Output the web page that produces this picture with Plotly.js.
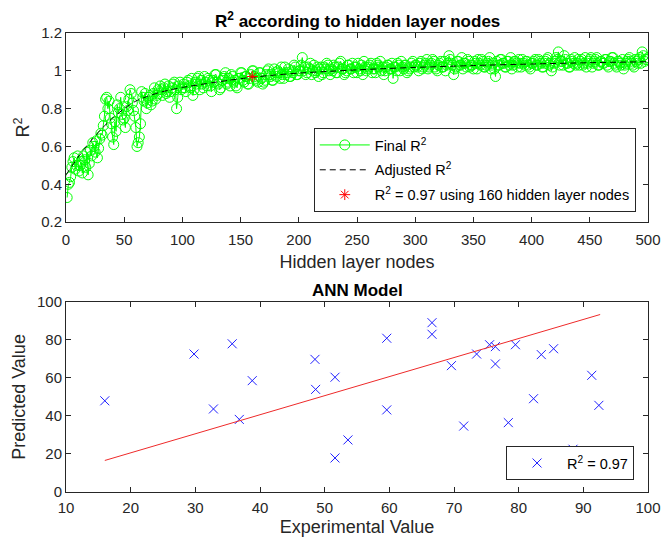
<!DOCTYPE html>
<html>
<head>
<meta charset="utf-8">
<script src="https://cdn.plot.ly/plotly-3.0.1.min.js"></script>
<style>html,body{margin:0;padding:0;background:#fff;}#chart{width:662px;height:537px;}</style>
</head>
<body>
<div id="chart"></div>
<script>
// ---------- Top chart: R^2 by hidden layer nodes ----------
// values at odd node counts 1,3,...,499
const finalR2Odd = [
  0.33,0.41,0.49,0.54,0.50,0.47,0.52,0.55,0.49,0.45,
  0.58,0.62,0.57,0.54,0.64,0.66,0.76,0.86,0.84,0.72,
  0.61,0.68,0.78,0.86,0.74,0.70,0.79,0.90,0.83,0.76,
  0.60,0.65,0.89,0.84,0.80,0.86,0.82,0.88,0.85,0.90,
  0.92,0.87,0.93,0.89,0.86,0.91,0.94,0.80,0.92,0.90,
  0.93,0.89,0.95,0.91,0.87,0.94,0.96,0.90,0.93,0.97,
  0.92,0.95,0.89,0.94,0.98,0.93,0.91,0.96,0.99,0.94,
  0.92,0.97,0.95,0.91,0.96,0.99,0.94,0.97,0.93,0.98,
  1.00,0.96,0.94,0.99,0.93,0.95,1.00,0.98,0.95,1.01,
  0.97,0.99,1.02,0.96,0.98,1.01,0.97,0.99,1.02,0.98,
  1.00,1.07,1.02,0.99,1.01,0.98,1.03,1.00,0.97,1.02,
  0.99,1.01,1.03,0.98,1.00,1.02,0.99,1.04,1.01,0.98,
  1.00,1.03,1.01,0.99,1.02,1.04,1.00,0.98,1.02,1.01,
  1.03,0.99,1.01,1.04,1.02,1.00,0.98,1.02,1.03,1.01,
  0.96,1.02,1.04,1.00,1.02,1.03,0.99,1.01,1.04,1.02,
  1.03,1.00,1.05,1.02,1.04,1.01,1.03,1.06,1.02,1.00,
  1.04,1.02,1.05,1.03,1.08,1.04,0.98,1.02,1.05,1.03,
  1.01,1.04,1.06,1.02,1.03,1.05,1.01,1.04,1.06,1.02,
  1.03,1.05,1.01,1.04,0.97,1.03,1.06,1.04,1.02,1.05,
  1.03,1.01,1.05,1.04,1.06,1.02,1.04,1.05,1.03,1.01,
  1.04,1.06,1.03,1.05,1.02,1.04,1.06,1.03,1.00,1.04,
  1.07,1.10,1.05,1.03,1.06,1.04,1.02,1.05,1.07,1.04,
  1.03,1.06,1.04,1.02,1.05,1.07,1.04,1.06,1.03,1.05,
  1.04,1.06,1.03,1.05,1.07,1.04,1.02,1.05,1.03,1.01,
  1.04,1.06,1.05,1.03,1.06,1.04,1.07,1.10,1.05,1.06
];
// values at even node counts 2,4,...,500
const finalR2Even = [
  0.40,0.44,0.52,0.48,0.55,0.50,0.46,0.53,0.57,0.51,
  0.55,0.60,0.63,0.59,0.67,0.71,0.85,0.80,0.75,0.65,
  0.73,0.82,0.80,0.77,0.75,0.81,0.85,0.88,0.79,0.70,
  0.62,0.72,0.86,0.88,0.83,0.87,0.84,0.91,0.87,0.88,
  0.90,0.91,0.88,0.92,0.89,0.93,0.90,0.86,0.94,0.91,
  0.91,0.94,0.92,0.96,0.90,0.93,0.97,0.95,0.91,0.94,
  0.96,0.92,0.95,0.98,0.94,0.90,0.95,0.97,0.93,0.96,
  0.98,0.94,0.92,0.96,0.99,0.95,0.97,0.93,0.96,1.00,
  0.97,0.95,0.99,0.96,0.94,0.98,1.01,0.97,0.95,0.99,
  1.00,0.96,0.98,1.02,0.99,0.97,1.00,1.03,0.98,1.00,
  1.03,1.00,0.98,1.02,1.04,1.00,0.99,1.02,1.01,0.98,
  1.02,1.04,1.00,1.01,1.03,0.99,1.02,1.05,1.01,0.99,
  1.03,1.01,1.04,1.02,0.99,1.01,1.03,1.05,1.00,1.02,
  1.04,1.01,0.99,1.03,1.05,1.02,1.00,1.03,1.01,1.04,
  1.02,1.00,1.03,1.05,1.01,1.03,1.00,1.02,1.05,1.03,
  1.02,1.04,1.01,1.03,1.06,1.02,1.04,1.05,1.01,1.03,
  1.05,1.02,1.00,1.04,1.06,1.03,1.01,1.05,1.03,1.07,
  1.04,1.02,1.05,1.03,1.01,1.04,1.06,1.03,1.05,1.02,
  1.04,1.07,1.03,1.01,1.05,1.03,1.06,1.04,1.02,1.05,
  1.07,1.03,1.05,1.02,1.04,1.06,1.03,1.05,1.02,1.04,
  1.05,1.03,1.06,1.04,1.02,1.05,1.07,1.04,1.02,1.05,
  1.06,1.03,1.05,1.08,1.04,1.02,1.06,1.04,1.03,1.06,
  1.05,1.03,1.07,1.04,1.06,1.02,1.05,1.07,1.03,1.05,
  1.04,1.06,1.02,1.05,1.07,1.03,1.05,1.04,1.06,1.03,
  1.05,1.07,1.04,1.02,1.05,1.06,1.04,1.08,1.06,1.07
];
const adjNodes = [0,10,20,30,40,50,60,70,80,90,100,120,140,160,180,200,225,250,275,300,350,400,450,500];
const adjR2    = [0.45,0.54,0.62,0.69,0.75,0.80,0.84,0.865,0.885,0.90,0.912,0.932,0.95,0.966,0.978,0.988,0.997,1.005,1.012,1.018,1.028,1.036,1.043,1.048];
const bestNode = [160];
const bestR2   = [0.97];

// ---------- Bottom chart: ANN model ----------
const experimental = [16,29.8,32.8,35.7,36.8,38.8,48.5,48.6,51.6,51.6,53.6,59.6,59.6,66.6,66.6,69.6,71.5,73.5,75.5,76.4,76.4,78.4,79.5,82.3,83.5,85.4,88.4,91.3,92.4];
const predicted    = [48,72.6,43.7,78,38.2,58.6,69.8,54,60.4,17.9,27.4,80.9,43.2,89.1,83,66.5,34.7,72.6,77.5,76.5,67.4,36.5,77.5,49.1,72.3,75.4,22.5,61.4,45.6];
const fitX = [16, 92.6];
const fitY = [16.6, 93.4];

// interleave odd and even node series into one ordered series
const nodes = [], finalR2 = [];
for (let i = 0; i < finalR2Odd.length; i++) {
  nodes.push(2 * i + 1); finalR2.push(finalR2Odd[i]);
  nodes.push(2 * i + 2); finalR2.push(finalR2Even[i]);
}

const FONT = 'Liberation Sans, Arial, Helvetica, sans-serif';
const AX = '#262626';

const traces = [
  {x: nodes, y: finalR2, type: 'scatter', mode: 'lines+markers', name: 'Final R<sup>2</sup>',
   line: {color: '#00ff00', width: 1}, marker: {symbol: 'circle-open', size: 10, color: '#00ff00', line: {width: 1}},
   xaxis: 'x', yaxis: 'y', legend: 'legend', legendgroup: 'a'},
  {x: adjNodes, y: adjR2, type: 'scatter', mode: 'lines', name: 'Adjusted R<sup>2</sup>',
   line: {color: '#000000', width: 1, dash: '6px,4px', shape: 'spline', smoothing: 0.6},
   xaxis: 'x', yaxis: 'y', legend: 'legend', legendgroup: 'b'},
  {x: bestNode, y: bestR2, type: 'scatter', mode: 'markers', name: 'R<sup>2</sup> = 0.97 using 160 hidden layer nodes',
   marker: {symbol: 'asterisk-open', size: 9, color: '#ff0000', line: {width: 1, color: '#ff0000'}},
   xaxis: 'x', yaxis: 'y', legend: 'legend', legendgroup: 'c'},
  {x: experimental, y: predicted, type: 'scatter', mode: 'markers', name: 'R<sup>2</sup> = 0.97',
   marker: {symbol: 'x-thin-open', size: 9, color: '#2020ff', line: {width: 1, color: '#2020ff'}},
   xaxis: 'x2', yaxis: 'y2', legend: 'legend2'},
  {x: fitX, y: fitY, type: 'scatter', mode: 'lines', showlegend: false,
   line: {color: '#ee2a2a', width: 1}, xaxis: 'x2', yaxis: 'y2', hoverinfo: 'skip'}
];

function axis(extra) {
  return Object.assign({
    showline: true, linecolor: AX, linewidth: 1, mirror: 'ticks',
    ticks: 'inside', ticklen: 5, tickcolor: AX, tickwidth: 1,
    showgrid: false, zeroline: false,
    tickfont: {family: FONT, size: 15, color: AX}
  }, extra);
}

const layout = {
  width: 662, height: 537,
  margin: {l: 66, r: 14, t: 33, b: 45},
  paper_bgcolor: '#ffffff', plot_bgcolor: '#ffffff',
  font: {family: FONT, color: AX},
  xaxis: axis({domain: [0, 1], range: [0, 500], tickvals: [0,50,100,150,200,250,300,350,400,450,500], anchor: 'y',
    ticklabelstandoff: 4,
    title: {text: 'Hidden layer nodes', font: {family: FONT, size: 18, color: AX}, standoff: 8}}),
  yaxis: axis({domain: [0.588, 1], range: [0.2, 1.2], tickvals: [0.2,0.4,0.6,0.8,1,1.2], anchor: 'x',
    title: {text: 'R<sup>2</sup>', font: {family: FONT, size: 18, color: AX}, standoff: 6}}),
  xaxis2: axis({domain: [0, 1], range: [10, 100], tickvals: [10,20,30,40,50,60,70,80,90,100], anchor: 'y2',
    ticklabelstandoff: 2,
    title: {text: 'Experimental Value', font: {family: FONT, size: 18, color: AX}, standoff: 6}}),
  yaxis2: axis({domain: [0, 0.414], range: [0, 100], tickvals: [0,20,40,60,80,100], anchor: 'x2',
    title: {text: 'Predicted Value', font: {family: FONT, size: 18, color: AX}, standoff: 6}}),
  legend: {x: 0.979, y: 0.61, xanchor: 'right', yanchor: 'bottom', xref: 'paper', yref: 'paper',
    bgcolor: '#ffffff', bordercolor: AX, borderwidth: 1, font: {family: FONT, size: 14.5, color: '#000'},
    traceorder: 'grouped', tracegroupgap: 3, itemwidth: 50},
  legend2: {x: 0.976, y: 0.026, xanchor: 'right', yanchor: 'bottom', xref: 'paper', yref: 'paper',
    bgcolor: '#ffffff', bordercolor: AX, borderwidth: 1, font: {family: FONT, size: 14.5, color: '#000'}, itemwidth: 50},
  annotations: [
    {text: '<b>R<sup>2</sup> according to hidden layer nodes</b>', xref: 'paper', yref: 'paper', x: 0.5, y: 1,
     xanchor: 'center', yanchor: 'bottom', yshift: 0, showarrow: false, font: {family: FONT, size: 17, color: '#000'}},
    {text: '<b>ANN Model</b>', xref: 'paper', yref: 'paper', x: 0.5, y: 0.414,
     xanchor: 'center', yanchor: 'bottom', yshift: 0, showarrow: false, font: {family: FONT, size: 17, color: '#000'}}
  ],
  showlegend: true
};

Plotly.newPlot('chart', traces, layout, {displayModeBar: false, staticPlot: true});
</script>
</body>
</html>
